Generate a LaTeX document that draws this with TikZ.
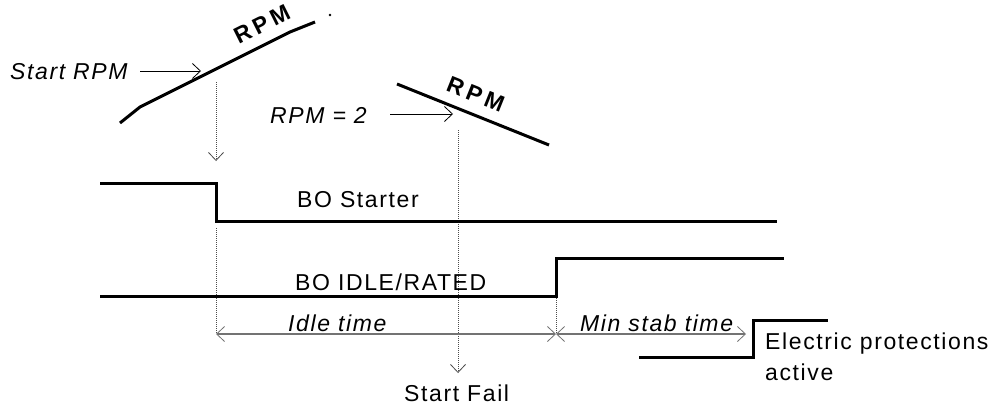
\documentclass[tikz,border=0pt]{standalone}
\usepackage{fontspec}
\setmainfont{Liberation Sans}
\newfontfamily\lblfont[LetterSpace=7]{Liberation Sans}
\newfontfamily\rpmfont[LetterSpace=18]{Liberation Sans Bold}
\usetikzlibrary{arrows.meta}
\tikzset{vb/.tip={Straight Barb[length=8pt,width=15pt,line width=0.8pt]}}
\begin{document}
\begin{tikzpicture}[x=1pt,y=-1pt,
  sig/.style={line width=3pt, line join=miter},
  thinarrow/.style={line width=0.8pt, -{vb}},
  dots/.style={draw=black!70, line width=0.9pt, dash pattern=on 1pt off 1pt},
  meas/.style={draw=black!55, line width=1.3pt},
  lab/.style={font=\lblfont\fontsize{23}{31}\selectfont, inner sep=0pt, anchor=base west},
  ilab/.style={lab, font=\lblfont\fontsize{23}{31}\selectfont\itshape},
  rpm/.style={font=\rpmfont\fontsize{23}{27}\selectfont, inner sep=0pt, sloped, above=10pt},
  dot/.style={circle, fill=black, inner sep=0pt, minimum size=2.8pt}
]
\useasboundingbox (0,0) rectangle (992,405);

% rising RPM
\coordinate (r1) at (120,123);
\coordinate (r2) at (140,107);
\coordinate (r3) at (290,32);
\coordinate (r4) at (315,22);
\draw[sig] (r1) -- (r2) -- node[rpm, pos=0.87] (rpmA) {RPM} (r3) -- (r4);
\node[dot] (dotA) at (330,15) {};

% falling RPM
\coordinate (f1) at (397,84);
\coordinate (f2) at (549,145);
\draw[sig] (f1) -- node[rpm, pos=0.47] (rpmB) {RPM} (f2);

% labels with arrows
\node[ilab] (startrpm) at (10,79) {Start RPM};
\coordinate (sa1) at (140,71);
\coordinate (sa2) at (201,71);
\draw[thinarrow] (sa1) -- (sa2);

\node[ilab] (rpm2) at (270,123) {RPM = 2};
\coordinate (ra1) at (390,114);
\coordinate (ra2) at (453,114);
\draw[thinarrow] (ra1) -- (ra2);

% dotted verticals
\coordinate (d1a) at (216,82);
\coordinate (d1b) at (216,161);
\draw[dots, -{vb}] (d1a) -- (d1b);
\coordinate (d1c) at (216,228);
\coordinate (m1) at (216,334);
\draw[dots] (d1c) -- (m1);
\coordinate (d2a) at (458,130);
\coordinate (d2b) at (458,373);
\draw[dots, -{vb}] (d2a) -- (d2b);
\coordinate (d3a) at (556,298);
\coordinate (m2) at (556,334);
\draw[dots] (d3a) -- (m2);

% measures
\coordinate (m3) at (746,334);
\draw[meas, {vb}-{vb}] (m1) -- (m2);
\draw[meas, {vb}-{vb}] (m2) -- (m3);
\node[ilab] (idle) at (288,331) {Idle time};
\node[ilab] (minstab) at (580,331) {Min stab time};

% BO Starter
\coordinate (s1) at (100,183);
\coordinate (s2) at (216,183);
\coordinate (s3) at (216,221);
\coordinate (s4) at (777,221);
\draw[sig] (s1) -- (s2) -- (s3) -- (s4);
\node[lab] (bostarter) at (297,207) {BO Starter};

% BO IDLE/RATED
\coordinate (i1) at (100,296);
\coordinate (i2) at (556,296);
\coordinate (i3) at (556,258);
\coordinate (i4) at (784,258);
\draw[sig] (i1) -- (i2) -- (i3) -- (i4);
\node[lab] (boidle) at (295,290) {BO IDLE/RATED};

% Electric protections
\coordinate (e1) at (639,357);
\coordinate (e2) at (753,357);
\coordinate (e3) at (753,320);
\coordinate (e4) at (828,320);
\draw[sig] (e1) -- (e2) -- (e3) -- (e4);
\node[lab] (elec1) at (765,349) {Electric protections};
\node[lab] (elec2) at (765,380) {active};

\node[lab] (startfail) at (404,401) {Start Fail};
\end{tikzpicture}
\end{document}
